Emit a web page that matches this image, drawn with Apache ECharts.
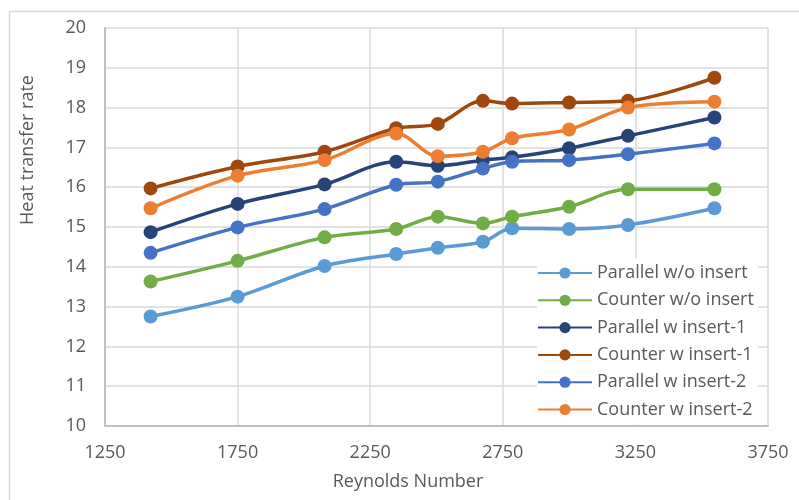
<!DOCTYPE html>
<html>
<head>
<meta charset="utf-8">
<script src="https://cdn.jsdelivr.net/npm/echarts@6/dist/echarts.min.js"></script>
<style>
  html, body { margin: 0; padding: 0; background: #fff; }
  #chart { width: 799px; height: 500px; }
</style>
</head>
<body>
<div id="chart"></div>
<script>
// Reynolds numbers of the measured runs
const reynolds = [1422, 1750, 2078, 2348, 2505, 2675, 2785, 3000, 3222, 3548];

// Heat transfer rate for each configuration
const parallelWithout = [12.75, 13.25, 14.02, 14.32, 14.48, 14.63, 14.97, 14.95, 15.05, 15.47];
const counterWithout  = [13.63, 14.15, 14.74, 14.95, 15.26, 15.09, 15.26, 15.51, 15.95, 15.95];
const parallelInsert1 = [14.87, 15.58, 16.07, 16.64, 16.54, 16.68, 16.75, 16.98, 17.29, 17.75];
const counterInsert1  = [15.97, 16.52, 16.89, 17.48, 17.59, 18.17, 18.10, 18.13, 18.17, 18.75];
const parallelInsert2 = [14.35, 14.99, 15.45, 16.06, 16.14, 16.47, 16.64, 16.68, 16.83, 17.10];
const counterInsert2  = [15.47, 16.29, 16.68, 17.35, 16.78, 16.89, 17.23, 17.45, 18.00, 18.15];

const seriesNames = [
  'Parallel w/o insert', 'Counter w/o insert',
  'Parallel w insert-1', 'Counter w insert-1',
  'Parallel w insert-2', 'Counter w insert-2'
];
const seriesValues = [
  parallelWithout, counterWithout,
  parallelInsert1, counterInsert1,
  parallelInsert2, counterInsert2
];
const seriesColors = ['#5B9BD5', '#70AD47', '#264478', '#9E480E', '#4472C4', '#ED7D31'];

const FONT = '"Open Sans", sans-serif';
const TEXT_COLOR = '#595959';
const FONT_SIZE = 18;

const chart = echarts.init(document.getElementById('chart'), null, { renderer: 'canvas' });

const series = seriesNames.map((name, i) => ({
  name: name,
  type: 'line',
  data: reynolds.map((r, j) => [r, seriesValues[i][j]]),
  smooth: 0.33,
  symbol: 'circle',
  symbolSize: 14,
  lineStyle: { width: 3.5, color: seriesColors[i] },
  itemStyle: { color: seriesColors[i] },
  emphasis: { disabled: true },
  z: 2 + i
}));

chart.setOption({
  animation: false,
  backgroundColor: '#fff',
  textStyle: { fontFamily: FONT },
  graphic: [
    {
      type: 'rect',
      shape: { x: 9.5, y: 11.5, width: 800, height: 500 },
      style: { fill: 'none', stroke: '#D9D9D9', lineWidth: 1.5 },
      z: -10,
      silent: true
    },
    {
      type: 'text',
      x: 408, y: 482,
      style: {
        text: 'Reynolds Number',
        textAlign: 'center', textVerticalAlign: 'middle',
        font: FONT_SIZE + 'px ' + FONT, fill: TEXT_COLOR
      },
      silent: true
    },
    {
      type: 'text',
      x: 28, y: 150,
      rotation: Math.PI / 2,
      style: {
        text: 'Heat transfer rate',
        textAlign: 'center', textVerticalAlign: 'middle',
        font: FONT_SIZE + 'px ' + FONT, fill: TEXT_COLOR
      },
      silent: true
    }
  ],
  grid: { left: 105, right: 31, top: 28, bottom: 74, containLabel: false },
  xAxis: {
    type: 'value',
    min: 1250, max: 3750, interval: 500,
    axisLine: { show: true, lineStyle: { color: '#BFBFBF', width: 2 } },
    axisTick: { show: false },
    axisLabel: {
      color: TEXT_COLOR, fontSize: FONT_SIZE, fontFamily: FONT, margin: 18,
      formatter: v => String(v)
    },
    splitLine: { show: true, lineStyle: { color: '#D9D9D9', width: 1.5 } }
  },
  yAxis: {
    type: 'value',
    min: 10, max: 20, interval: 1,
    axisLine: { show: true, lineStyle: { color: '#BFBFBF', width: 2 } },
    axisTick: { show: false },
    axisLabel: { color: TEXT_COLOR, fontSize: FONT_SIZE, fontFamily: FONT, margin: 19 },
    splitLine: { show: true, lineStyle: { color: '#D9D9D9', width: 1.5 } }
  },
  legend: {
    orient: 'vertical',
    left: 537,
    top: 258,
    padding: [5, 4, 5, 0],
    backgroundColor: '#fff',
    itemWidth: 54,
    itemHeight: 14,
    itemGap: 7.3,
    selectedMode: false,
    textStyle: { color: TEXT_COLOR, fontSize: FONT_SIZE, fontFamily: FONT, lineHeight: 20 },
    data: seriesNames
  },
  series: series
});
</script>
</body>
</html>
